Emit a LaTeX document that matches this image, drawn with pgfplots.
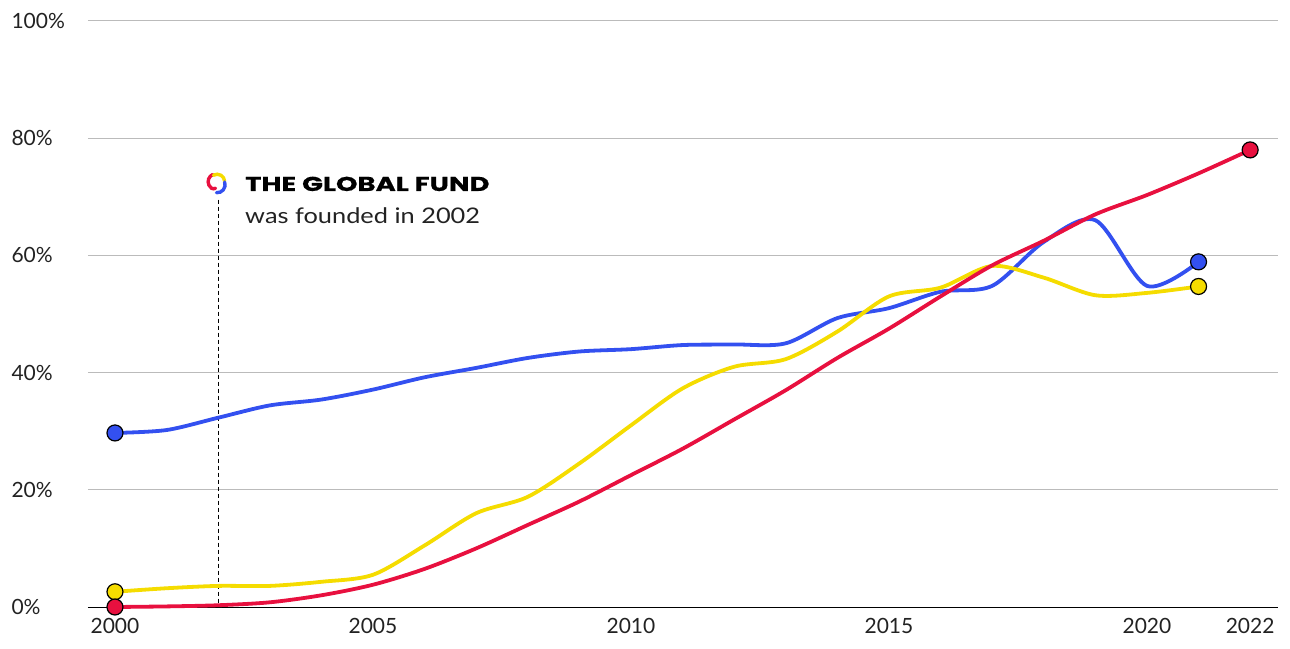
\documentclass[border=0pt]{standalone}
\usepackage{pgfplots}
\pgfplotsset{compat=1.18}
\usetikzlibrary{calc}
\usepackage{fontspec}
\setmainfont{Lato}
\newfontfamily\headfont{Poppins}[FakeStretch=1.37, BoldFeatures={FakeBold=0.6}]
\newfontfamily\notefont{Lato}[FakeStretch=1.18]
\definecolor{gfblue}{HTML}{3350F0}
\definecolor{gfyellow}{HTML}{F5DC00}
\definecolor{gfred}{HTML}{E8103F}
\definecolor{txt}{HTML}{222222}
\definecolor{gridc}{HTML}{BBBBBB}
\begin{document}
\begin{tikzpicture}
\path (0,0) rectangle (1290pt,648pt);
\begin{axis}[
  at={(88pt,41pt)}, anchor=south west,
  scale only axis, width=1190pt, height=586pt,
  xmin=1999.477, xmax=2022.54, ymin=0, ymax=100,
  axis line style={draw=none},
  major tick length=0pt,
  xtick={2000,2005,2010,2015,2020,2022},
  ytick={0,20,40,60,80,100},
  ymajorgrids, grid style={gridc, line width=1pt},
  /pgf/number format/assume math mode=true,
  /pgf/number format/1000 sep={},
  yticklabel={\pgfmathprintnumber{\tick}\%},
  ticklabel style={font=\fontsize{21}{24}\selectfont, text=txt},
  yticklabel style={anchor=west, xshift=-80pt},
  xticklabel style={yshift=-8pt},
  clip=false,
]
\draw[black, line width=1pt] (rel axis cs:0,0) -- (rel axis cs:1,0);
\draw[black, line width=0.8pt, dash pattern=on 4pt off 3pt] (axis cs:2002,69.5) -- (axis cs:2002,0);

\addplot[gfblue, line width=3.8pt, smooth, tension=0.5] coordinates {
(2000,29.7)(2001,30.2)(2002,32.3)(2003,34.4)(2004,35.4)(2005,37.1)(2006,39.2)
(2007,40.8)(2008,42.5)(2009,43.6)(2010,44.0)(2011,44.7)(2012,44.8)(2013,45.0)
(2014,49.3)(2015,51.0)(2016,53.8)(2017,54.8)(2018,62.3)(2019,66.0)(2020,54.8)(2021,58.9)};
\addplot[gfyellow, line width=3.8pt, smooth, tension=0.5] coordinates {
(2000,2.6)(2001,3.2)(2002,3.6)(2003,3.6)(2004,4.3)(2005,5.5)(2006,10.5)
(2007,16.0)(2008,18.8)(2009,24.5)(2010,31.0)(2011,37.3)(2012,41.0)(2013,42.3)
(2014,47.0)(2015,53.0)(2016,54.5)(2017,58.2)(2018,56.2)(2019,53.2)(2020,53.6)(2021,54.7)};
\addplot[gfred, line width=3.8pt, smooth, tension=0.5] coordinates {
(2000,0)(2001,0.1)(2002,0.3)(2003,0.8)(2004,2.0)(2005,3.8)(2006,6.5)
(2007,10.0)(2008,14.0)(2009,18.0)(2010,22.5)(2011,27.0)(2012,32.0)(2013,37.0)
(2014,42.5)(2015,47.5)(2016,53.0)(2017,58.3)(2018,62.5)(2019,67.0)(2020,70.3)(2021,74.0)(2022,78.0)};

\addplot[only marks, mark=*, mark size=8pt, mark options={fill=gfyellow, draw=black, line width=1.2pt}] coordinates {(2000,2.6)(2021,54.7)};
\addplot[only marks, mark=*, mark size=8pt, mark options={fill=gfblue, draw=black, line width=1.2pt}] coordinates {(2000,29.7)(2021,58.9)};
\addplot[only marks, mark=*, mark size=8pt, mark options={fill=gfred, draw=black, line width=1.2pt}] coordinates {(2000,0)(2022,78.0)};

\coordinate (logo) at (axis cs:2001.98,72.4);
\node[anchor=west, inner sep=0pt, text=black, font=\headfont\bfseries\fontsize{20}{24}\selectfont] at (axis cs:2002.52,72.2) {THE GLOBAL FUND};
\node[anchor=west, inner sep=0pt, text=txt, font=\notefont\fontsize{21.5}{26}\selectfont] at (axis cs:2002.52,66.7) {was founded in 2002};
\end{axis}
% Global Fund logo (pinwheel of three arcs)
\begin{scope}[shift={(logo)}, line width=3.4pt, line cap=round]
  \draw[gfred] ($(-1pt,1pt)+(115:8pt)$) arc[start angle=115, end angle=235, radius=8pt]
     to[out=-30, in=200] ++(4pt,0pt);
  \draw[gfyellow] ($(0pt,1pt)+(120:7.5pt)$) arc[start angle=120, end angle=5, radius=7.5pt];
  \draw[gfblue] ($(0pt,-2pt)+(20:8pt)$) arc[start angle=20, end angle=-95, radius=8pt];
\end{scope}
\end{tikzpicture}
\end{document}
